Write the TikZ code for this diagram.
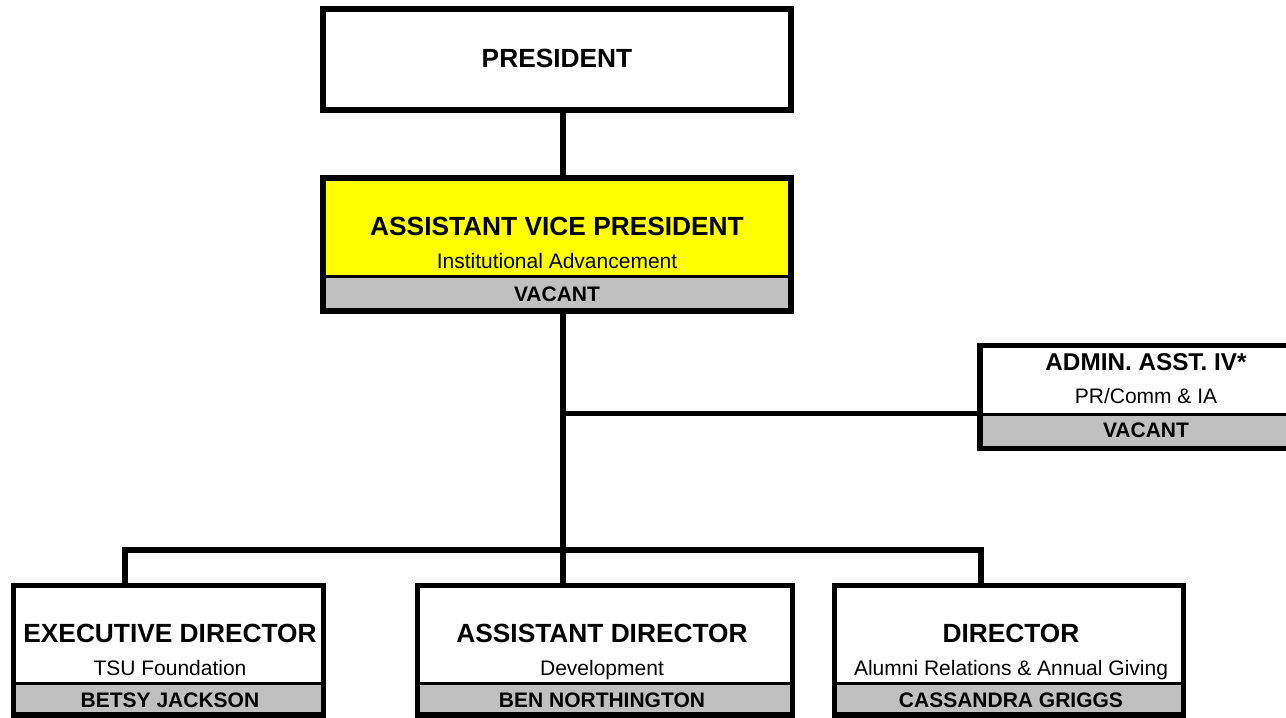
\documentclass[tikz,border=0pt]{standalone}
\usepackage{fontspec}
\setmainfont{Liberation Sans}
\usetikzlibrary{calc}
\pgfdeclarelayer{bg}
\pgfsetlayers{bg,main}
\definecolor{bandgray}{RGB}{192,192,192}
\definecolor{avpyellow}{RGB}{255,255,0}
\tikzset{
  orgbox/.style={rectangle, draw=black, line width=5.3pt, fill=white,
    inner sep=0pt, outer sep=0pt},
  % grey name band along the bottom of a box, #1 = band height
  band/.style={path picture={
      \fill[bandgray] ([yshift=#1]path picture bounding box.south west)
        rectangle (path picture bounding box.south east);
      \draw[line width=3pt] ([yshift=#1]path picture bounding box.south west)
        -- ([yshift=#1]path picture bounding box.south east);}},
  title/.style={anchor=base, inner sep=0pt, font=\fontsize{26.3}{30}\selectfont\bfseries},
  smalltitle/.style={anchor=base, inner sep=0pt, font=\fontsize{24.3}{28}\selectfont\bfseries},
  unit/.style={anchor=base, inner sep=0pt, font=\fontsize{21}{24}\selectfont},
  person/.style={anchor=base, inner sep=0pt, font=\fontsize{21}{24}\selectfont\bfseries},
  link/.style={line width=5.5pt, line join=miter},
}
\begin{document}
\begin{tikzpicture}[x=1pt, y=-1pt]
\useasboundingbox (0,0) rectangle (1286,718);

% boxes
\node[orgbox, minimum width=468pt, minimum height=101pt] (pres) at (557,59.5) {};
\node[orgbox, fill=avpyellow, band=34.5pt, minimum width=468pt, minimum height=133pt] (avp) at (557,244.5) {};
\node[orgbox, band=33.8pt, minimum width=332pt, minimum height=103pt] (admin) at (1146,397) {};
\node[orgbox, band=31.5pt, minimum width=309.6pt, minimum height=129.3pt] (exec) at (168.5,650.35) {};
\node[orgbox, band=31.5pt, minimum width=374.6pt, minimum height=129.3pt] (ad) at (605,650.35) {};
\node[orgbox, band=31.5pt, minimum width=348.6pt, minimum height=129.3pt] (dir) at (1009,650.35) {};

% texts
\node[title] (presT) at (557,67) {PRESIDENT};

\node[title] (avpT) at (557,235) {ASSISTANT VICE PRESIDENT};
\node[unit] (avpU) at (557,268) {Institutional Advancement};
\node[person] (avpP) at (557,301) {VACANT};

\node[smalltitle] (adminT) at (1146,370.7) {ADMIN. ASST. IV*};
\node[unit] (adminU) at (1146,403) {PR/Comm \& IA};
\node[person] (adminP) at (1146,437) {VACANT};

\node[title] (execT) at (170,642.7) {EXECUTIVE DIRECTOR};
\node[unit] (execU) at (170,675) {TSU Foundation};
\node[person] (execP) at (170,707.7) {BETSY JACKSON};

\node[title] (adT) at (602,642.7) {ASSISTANT DIRECTOR};
\node[unit] (adU) at (602,675) {Development};
\node[person] (adP) at (602,707.7) {BEN NORTHINGTON};

\node[title] (dirT) at (1011,642.7) {DIRECTOR};
\node[unit] (dirU) at (1011,675) {Alumni Relations \& Annual Giving};
\node[person] (dirP) at (1011,707.7) {CASSANDRA GRIGGS};

% reporting lines
\coordinate (axis) at (563,0);
\coordinate (aj) at (563,413.5);
\coordinate (jE) at (125,550);
\coordinate (jA) at (563,550);
\coordinate (jD) at (981,550);
\begin{pgfonlayer}{bg}
  \draw[link] (pres.south -| axis) -- (avp.north -| axis);
  \draw[link] (avp.south -| axis) -- (jA) -- (ad.north -| jA);
  \draw[link] (aj) -- (aj -| admin.west);
  \draw[link] (exec.north -| jE) -- (jE) -- (jD) -- (dir.north -| jD);
\end{pgfonlayer}
\end{tikzpicture}
\end{document}
